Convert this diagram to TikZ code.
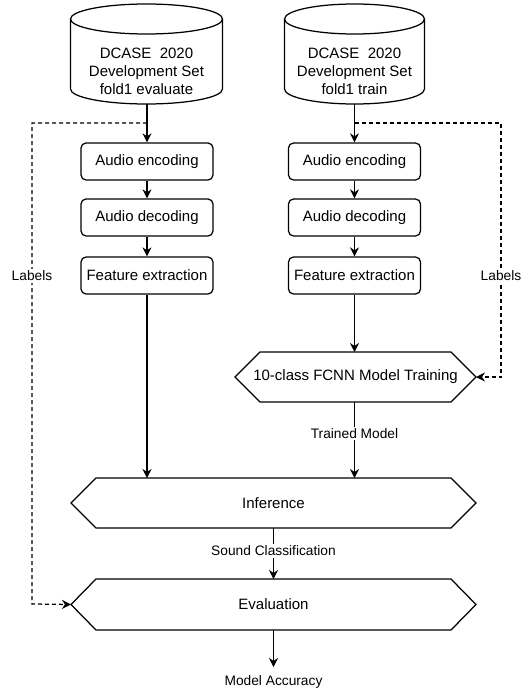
\documentclass[tikz,border=0pt]{standalone}
\usepackage{fontspec}
\setmainfont{Liberation Sans}
\usetikzlibrary{arrows.meta,calc}
\begin{document}
\begin{tikzpicture}[x=1pt,y=1pt,line width=1.25pt,
  every node/.style={font=\fontsize{15}{18}\selectfont},
  lbl/.style={font=\fontsize{13.75}{16}\selectfont, fill=white, inner sep=1.5pt},
  procbox/.style={draw, rounded corners=5pt, minimum width=132pt, minimum height=37pt, inner sep=0pt},
  hexnode/.style={minimum height=50pt, inner sep=0pt, outer sep=0pt},
  flow/.style={-{Stealth[length=9pt,width=9pt]}},
  dflow/.style={flow, dash pattern=on 4pt off 3pt}]
\useasboundingbox (0,0) rectangle (530,-693);

% cylinders
\draw (70.5,-19) -- (70.5,-89) arc[start angle=180,end angle=360,x radius=76pt,y radius=15pt] -- (222.5,-19);
\draw (146.5,-19) ellipse[x radius=76pt, y radius=15pt];
\node[align=center] (cylL) at (146.5,-71) {DCASE\ \ 2020\\Development Set\\fold1 evaluate};
\coordinate (cylLb) at (147,-104);

\draw (284.5,-19) -- (284.5,-89) arc[start angle=180,end angle=360,x radius=70pt,y radius=15pt] -- (424.5,-19);
\draw (354.5,-19) ellipse[x radius=70pt, y radius=15pt];
\node[align=center] (cylR) at (354.5,-71) {DCASE\ \ 2020\\Development Set\\fold1 train};
\coordinate (cylRb) at (354.5,-104);

% boxes
\node[procbox] (encL) at (147,-161.5) {Audio encoding};
\node[procbox] (decL) at (147,-217.5) {Audio decoding};
\node[procbox] (featL) at (147,-275.5) {Feature extraction};
\node[procbox] (encR) at (354.5,-161.5) {Audio encoding};
\node[procbox] (decR) at (354.5,-217.5) {Audio decoding};
\node[procbox] (featR) at (354.5,-275.5) {Feature extraction};

% hexagons
\node[hexnode, minimum width=241pt] (fcnn) at (355.5,-377) {10-class FCNN Model Training};
\node[hexnode, minimum width=405pt] (inf) at (273.5,-503) {Inference};
\node[hexnode, minimum width=405pt, minimum height=51pt] (ev) at (273.5,-604.5) {Evaluation};
\foreach \n in {fcnn,inf,ev}{
  \draw (\n.west) -- ([xshift=25pt]\n.north west) -- ([xshift=-25pt]\n.north east) -- (\n.east)
        -- ([xshift=-25pt]\n.south east) -- ([xshift=25pt]\n.south west) -- cycle;
}

\node[lbl, fill=none, anchor=north, inner ysep=8pt] (acc) at (273.5,-667) {Model Accuracy};

% solid connectors
\draw[flow] (cylLb) -- (encL);
\draw[flow] (encL) -- (decL);
\draw[flow] (decL) -- (featL);
\draw[flow] (featL.south) -- (featL.south |- inf.north);
\draw[flow] (cylRb) -- (encR);
\draw[flow] (encR) -- (decR);
\draw[flow] (decR) -- (featR);
\draw[flow] (featR.south) -- (featR.south |- fcnn.north);
\draw[flow] (featR.south |- fcnn.south) -- node[lbl, pos=0.42] {Trained Model} (featR.south |- inf.north);
\draw[flow] (inf.south) -- node[lbl, pos=0.45] {Sound Classification} (ev.north);
\draw[flow] (ev.south) -- (acc.north);

% dashed label connectors
\coordinate (jL) at (147,-123);
\coordinate (jR) at (354.5,-123);
\draw[dflow] (jL) -- (32,-123) -- (32,-604) -- (ev.west);
\draw[dflow] (jR) -- (501,-123) -- (501,-377) -- (fcnn.east);
\node[lbl] (labL) at (32,-276) {Labels};
\node[lbl] (labR) at (501,-276) {Labels};
\end{tikzpicture}
\end{document}
